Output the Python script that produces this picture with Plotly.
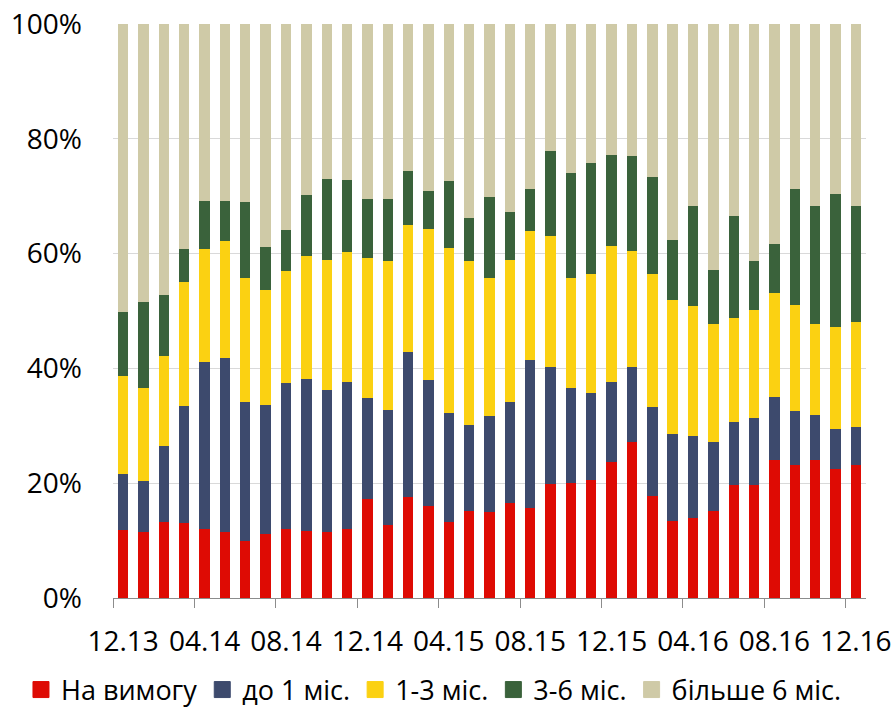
import plotly.graph_objects as go

months = ["12.13", "01.14", "02.14", "03.14", "04.14", "05.14", "06.14", "07.14", "08.14",
          "09.14", "10.14", "11.14", "12.14", "01.15", "02.15", "03.15", "04.15", "05.15",
          "06.15", "07.15", "08.15", "09.15", "10.15", "11.15", "12.15", "01.16", "02.16",
          "03.16", "04.16", "05.16", "06.16", "07.16", "08.16", "09.16", "10.16", "11.16", "12.16"]

on_demand = [11.8, 11.5, 13.2, 13.0, 12.1, 11.5, 10.0, 11.1, 12.0, 11.7, 11.5, 12.0, 17.2,
             12.8, 17.6, 16.0, 13.2, 15.2, 15.0, 16.5, 15.7, 19.9, 20.0, 20.5, 23.7, 27.1,
             17.7, 13.5, 13.9, 15.2, 19.7, 19.7, 24.0, 23.2, 24.1, 22.5, 23.2]
upto_1m = [9.8, 8.8, 13.2, 20.4, 29.1, 30.3, 24.2, 22.5, 25.4, 26.4, 24.7, 25.6, 17.6,
           20.0, 25.3, 21.9, 19.1, 14.9, 16.7, 17.7, 25.8, 20.4, 16.5, 15.3, 13.9, 13.2,
           15.5, 15.1, 14.3, 11.9, 10.9, 11.7, 11.1, 9.4, 7.8, 6.9, 6.6]
m1_3 = [17.0, 16.3, 15.7, 21.6, 19.6, 20.4, 21.6, 20.0, 19.5, 21.5, 22.6, 22.6, 24.5,
        25.9, 22.0, 26.3, 28.6, 28.6, 24.1, 24.7, 22.4, 22.7, 19.3, 20.6, 23.8, 20.2,
        23.3, 23.4, 22.6, 20.7, 18.2, 18.7, 18.0, 18.4, 15.9, 17.8, 18.2]
m3_6 = [11.2, 14.9, 10.7, 5.8, 8.4, 7.0, 13.2, 7.6, 7.2, 10.6, 14.2, 12.6, 10.2,
        10.8, 9.5, 6.7, 11.7, 7.5, 14.0, 8.3, 7.3, 14.8, 18.3, 19.3, 15.8, 16.5,
        16.8, 10.4, 17.5, 9.3, 17.7, 8.6, 8.5, 20.2, 20.5, 23.2, 20.3]
over_6m = [50.2, 48.5, 47.2, 39.2, 30.8, 30.8, 31.0, 38.8, 35.9, 29.8, 27.0, 27.2, 30.5,
           30.5, 25.6, 29.1, 27.4, 33.8, 30.2, 32.8, 28.8, 22.2, 25.9, 24.3, 22.8, 23.0,
           26.7, 37.6, 31.7, 42.9, 33.5, 41.3, 38.4, 28.8, 31.7, 29.6, 31.7]

series_names = ["На вимогу", "до 1 міс.", "1-3 міс.", "3-6 міс.", "більше 6 міс."]
series_values = [on_demand, upto_1m, m1_3, m3_6, over_6m]
colors = ["#DE0B04", "#3D4A6D", "#FBD112", "#3A623B", "#CFCAA7"]

y_ticks = [0, 20, 40, 60, 80, 100]

FONT = "Open Sans, Noto Sans, sans-serif"

x = list(range(len(months)))
label_idx = x[::4]

fig = go.Figure()
for name, vals, col in zip(series_names, series_values, colors):
    fig.add_trace(go.Bar(x=x, y=vals, name=name, marker=dict(color=col, line=dict(width=0)),
                         showlegend=False))
for name, col in zip(series_names, colors):
    fig.add_trace(go.Scatter(x=[None], y=[None], mode="markers", name=name,
                             marker=dict(symbol="square", size=16, color=col,
                                         line=dict(width=1, color=col))))

fig.update_layout(
    barmode="stack",
    bargap=0.49,
    width=896, height=708,
    margin=dict(l=113, r=30, t=24, b=110, autoexpand=False),
    paper_bgcolor="white", plot_bgcolor="white",
    font=dict(family=FONT, color="black"),
    legend=dict(orientation="h", xref="paper", yref="paper",
                x=-0.1222, y=-0.1603, xanchor="left", yanchor="middle",
                traceorder="normal",
                font=dict(size=27, family=FONT), itemclick=False,
                tracegroupgap=0, bgcolor="rgba(0,0,0,0)"),
)
fig.update_xaxes(
    automargin=False,
    range=[-0.5, len(months) - 0.5],
    tickmode="array", tickvals=label_idx, ticktext=[months[i] for i in label_idx],
    ticks="", showgrid=False, zeroline=False,
    showline=True, linecolor="#8C8C8C", linewidth=1,
    tickfont=dict(size=28, family=FONT, color="black"),
    ticklabelstandoff=18, ticklabeloverflow="allow",
    minor=dict(tickmode="array", tickvals=[i - 0.5 for i in label_idx],
               ticks="outside", ticklen=9, tickcolor="#8C8C8C", tickwidth=1, showgrid=False),
)
fig.update_yaxes(
    automargin=False,
    range=[0, 100], tickmode="array", tickvals=y_ticks,
    ticktext=[f"{v}%" for v in y_ticks],
    showgrid=True, gridcolor="#D9D9D9", gridwidth=1,
    zeroline=False, showline=False, ticks="",
    tickfont=dict(size=28, family=FONT, color="black"),
    ticklabelstandoff=30, ticklabeloverflow="allow",
)

# remove the default 8px page margin so the figure fills the window exactly
fig.write_html("out.html", config={"displayModeBar": False},
               post_script="document.body.style.margin='0';")
